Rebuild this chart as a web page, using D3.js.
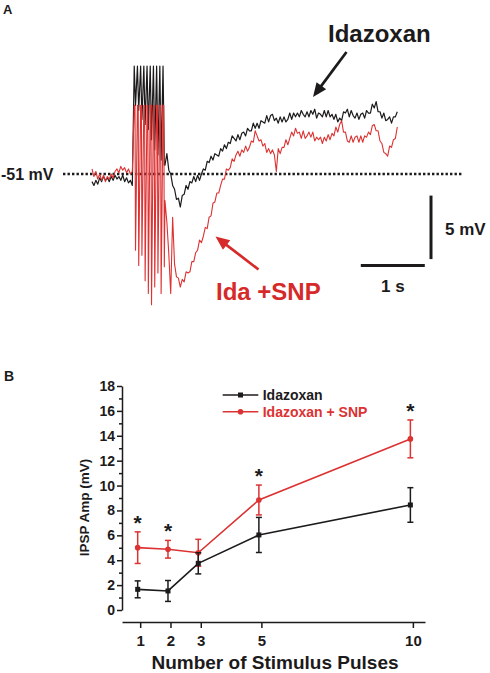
<!DOCTYPE html>
<html><head><meta charset="utf-8">
<script src="https://cdn.jsdelivr.net/npm/d3@7"></script>
<style>
html,body{margin:0;padding:0;background:#fff;}
svg{display:block;font-family:"Liberation Sans",Arial,Helvetica,sans-serif;}
</style></head><body>
<svg id="chart" width="490" height="673"></svg>
<script>
// ---------- Panel A data (mV, sampled every dt seconds) ----------
const dt = 0.03;
const preStart = 0;
const postStart = 1.14;
const restingPotential = -51;
const idaPre = [-51.6,-51.9,-51.5,-51.8,-51.3,-51.6,-51.2,-51.5,-51.3,-51.6,-51.2,-51.5,-51.1,-51.4,-51.2,-51.5,-51.1,-51.6,-51.3,-51.7,-51.5,-51.9];
const snpPre = [-50.6,-51.2,-50.8,-51.4,-51.0,-51.5,-51.1,-51.6,-51.2,-51.4,-51.0,-51.3,-50.8,-50.6,-50.9,-50.4,-50.7,-50.5,-50.9,-50.6,-51.0,-50.8];
const stimTimes = [0.66,0.71,0.76,0.81,0.86,0.91,0.96,1.01,1.06,1.11];
const idaStimUp = [-42.5,-42.5,-42.5,-42.5,-42.5,-42.5,-42.5,-42.5,-42.5,-42.5];
const idaStimDown = [-45.6,-46.0,-46.7,-47.1,-47.5,-48.3,-49.1,-49.5,-49.9,-50.3];
const snpStimUp = [-45.6,-45.6,-45.6,-45.6,-45.6,-45.6,-45.6,-45.6,-45.6,-45.6];
const snpStimDown = [-57.0,-58.2,-57.4,-59.4,-60.4,-61.3,-59.9,-58.8,-60.4,-58.3];
const idaPost = [-50.3,-49.4,-50.7,-51.0,-51.9,-52.2,-53.0,-52.9,-53.6,-52.7,
-52.6,-51.9,-52.2,-51.6,-51.7,-51.2,-51.6,-51.1,-51.5,-51.0,
-50.6,-50.7,-50.0,-50.1,-49.6,-49.9,-49.4,-49.5,-49.6,-49.0,
-49.2,-48.7,-49.0,-48.5,-48.6,-48.0,-48.2,-48.4,-47.9,-48.3,
-47.8,-47.7,-48.0,-47.4,-47.6,-47.6,-47.0,-47.4,-47.0,-47.4,
-46.8,-46.9,-47.0,-46.4,-46.9,-46.4,-46.3,-46.8,-46.6,-47.0,
-46.5,-46.9,-46.5,-46.9,-46.7,-46.2,-46.7,-46.2,-46.5,-46.2,
-46.5,-46.0,-46.3,-46.5,-46.1,-46.5,-46.0,-46.3,-45.9,-46.6,
-46.2,-46.3,-46.5,-46.0,-46.5,-46.0,-46.5,-46.3,-46.7,-46.3,
-46.9,-46.6,-46.8,-46.1,-46.2,-45.9,-46.5,-46.0,-46.4,-46.6,
-46.2,-46.7,-46.3,-46.2,-46.6,-46.0,-46.2,-46.2,-45.5,-45.8,
-45.3,-46.1,-46.1,-46.6,-46.2,-46.8,-46.7,-46.5,-47.0,-46.5,
-46.5,-46.1];
const snpPost = [-53.1,-54.8,-57.3,-60.4,-54.4,-58.1,-59.1,-59.2,-59.9,-59.3,
-59.5,-58.7,-58.8,-58.7,-57.9,-57.9,-57.2,-57.0,-56.2,-56.4,
-55.9,-55.2,-55.3,-54.4,-54.3,-53.3,-53.2,-52.5,-52.5,-51.9,
-51.4,-51.4,-50.6,-50.7,-50.5,-49.8,-50.0,-49.5,-49.2,-49.6,
-49.1,-49.3,-48.8,-49.2,-48.9,-48.4,-48.5,-47.6,-48.0,-48.4,
-48.3,-48.8,-48.6,-49.3,-49.0,-49.4,-49.1,-49.5,-50.8,-49.0,
-49.4,-48.9,-48.9,-48.3,-48.7,-48.2,-47.7,-48.0,-47.4,-47.8,
-47.7,-48.2,-47.6,-48.2,-48.0,-47.7,-48.1,-47.7,-48.4,-48.1,
-48.3,-48.1,-48.6,-48.1,-48.4,-47.9,-48.3,-47.8,-48.0,-47.3,
-47.7,-47.1,-46.8,-47.7,-47.7,-48.4,-48.5,-48.0,-48.5,-48.1,
-48.0,-48.5,-48.0,-48.5,-48.0,-48.1,-47.7,-47.9,-47.2,-47.1,
-47.6,-47.6,-48.4,-48.6,-49.3,-49.4,-49.6,-48.8,-48.9,-48.3,
-48.2,-47.3];

// ---------- Panel B data ----------
const pulses = [1, 2, 3, 5, 10];
const idaMean = [1.66, 1.53, 3.75, 6.03, 8.44];
const idaSem  = [0.68, 0.84, 0.85, 1.41, 1.39];
const snpMean = [5.01, 4.88, 4.60, 8.84, 13.75];
const snpSem  = [1.27, 0.71, 1.08, 1.20, 1.52];
const significant = [true, true, false, true, true];
const yTicksB = [0, 2, 4, 6, 8, 10, 12, 14, 16, 18];
const yMinorB = [1, 3, 5, 7, 9, 11, 13, 15, 17];
const xTicksB = [1, 2, 3, 5, 10];
const seriesNames = ["Idazoxan", "Idazoxan + SNP"];

const INK = "#1c1a1b";
const RED = "#dc3232";
const svg = d3.select("#chart");

// ================= Panel A =================
const xA = d3.scaleLinear().domain([0, 4.8]).range([92, 399.2]);
const yA = d3.scaleLinear().domain([-51, -46]).range([174, 110.5]);

function buildTrace(pre, up, down, post, flatTop) {
  const pts = [];
  pre.forEach((v, i) => pts.push([preStart + i * dt, v]));
  stimTimes.forEach((t, i) => {
    pts.push([t, up[i]]);
    if (flatTop) pts.push([t + 0.012, up[i]]);
    pts.push([t + 0.02, down[i]]);
  });
  post.forEach((v, i) => pts.push([postStart + i * dt, v]));
  return pts;
}
const lineA = d3.line().x(d => xA(d[0])).y(d => yA(d[1]));

svg.append("text").attr("x", 3).attr("y", 14).attr("font-size", 13).attr("font-weight", "bold").attr("fill", INK).text("A");

// dotted resting line
svg.append("line").attr("x1", 63).attr("x2", 463)
  .attr("y1", yA(restingPotential)).attr("y2", yA(restingPotential))
  .attr("stroke", INK).attr("stroke-width", 2.3).attr("stroke-dasharray", "2.4,2.1");
svg.append("text").attr("x", 1).attr("y", yA(restingPotential) + 6).attr("font-size", 16).attr("font-weight", "bold").attr("fill", INK).text(restingPotential + " mV");

svg.append("path").datum(buildTrace(idaPre, idaStimUp, idaStimDown, idaPost, false))
  .attr("d", lineA).attr("fill", "none").attr("stroke", INK).attr("stroke-width", 1.2).attr("stroke-linejoin", "round");
svg.append("path").datum(buildTrace(snpPre, snpStimUp, snpStimDown, snpPost, true))
  .attr("d", lineA).attr("fill", "none").attr("stroke", RED).attr("stroke-width", 1.1).attr("stroke-linejoin", "round");

// scale bars
const barT0 = 4.2, barV0 = -57.7;
svg.append("line").attr("x1", xA(barT0)).attr("x2", xA(barT0 + 1)).attr("y1", 265.5).attr("y2", 265.5)
  .attr("stroke", INK).attr("stroke-width", 3);
svg.append("line").attr("x1", 431).attr("x2", 431).attr("y1", yA(barV0)).attr("y2", yA(barV0 + 5))
  .attr("stroke", INK).attr("stroke-width", 3);
svg.append("text").attr("x", 445).attr("y", 235).attr("font-size", 17).attr("font-weight", "bold").attr("fill", INK).text("5 mV");
svg.append("text").attr("x", (xA(barT0) + xA(barT0 + 1)) / 2).attr("y", 292).attr("text-anchor", "middle").attr("font-size", 17).attr("font-weight", "bold").attr("fill", INK).text("1 s");

// labels + arrows
function arrow(x1, y1, x2, y2, color) {
  const ang = Math.atan2(y2 - y1, x2 - x1), L = 14, W = 6;
  const bx = x2 - L * Math.cos(ang), by = y2 - L * Math.sin(ang);
  svg.append("line").attr("x1", x1).attr("y1", y1).attr("x2", bx + 2 * Math.cos(ang)).attr("y2", by + 2 * Math.sin(ang))
    .attr("stroke", color).attr("stroke-width", 2.7);
  const px = -Math.sin(ang), py = Math.cos(ang);
  svg.append("path").attr("d", `M${x2},${y2}L${bx + W * px},${by + W * py}L${bx - W * px},${by - W * py}Z`).attr("fill", color);
}
svg.append("text").attr("x", 328).attr("y", 42).attr("font-size", 24).attr("font-weight", "bold").attr("fill", INK).text("Idazoxan");
arrow(346.5, 52, 313, 97, INK);
svg.append("text").attr("x", 216).attr("y", 300).attr("font-size", 24).attr("font-weight", "bold").attr("fill", "#d62a2a").text("Ida +SNP");
arrow(258.5, 269.5, 215.5, 236.5, "#d62a2a");

// ================= Panel B =================
svg.append("text").attr("x", 4).attr("y", 381).attr("font-size", 14).attr("font-weight", "bold").attr("fill", INK).text("B");

const xB = d3.scaleLinear().domain([0.4, 10.4]).range([119.5, 422.5]);
const yB = d3.scaleLinear().domain([0, 18]).range([610, 386]);

const gy = svg.append("g").attr("transform", "translate(122,0)")
  .call(d3.axisLeft(yB).tickValues(yTicksB).tickSize(5).tickPadding(2).tickSizeOuter(0));
svg.append("g").attr("transform", "translate(122,0)")
  .call(d3.axisLeft(yB).tickValues(yMinorB).tickSize(3).tickFormat("").tickSizeOuter(0))
  .select(".domain").remove();
const gx = svg.append("g").attr("transform", "translate(2.5,622)")
  .call(d3.axisBottom(xB).tickValues(xTicksB).tickSize(6).tickPadding(7).tickSizeOuter(0));
svg.selectAll(".tick line, .domain").attr("stroke", INK).attr("stroke-width", 1.5);
svg.selectAll(".tick text").attr("font-size", 14).attr("font-weight", "bold").attr("fill", INK)
  .attr("font-family", '"Liberation Sans",Arial,sans-serif');
gx.selectAll(".tick text").attr("font-size", 15);

svg.append("text").attr("transform", "translate(88.5,507.5) rotate(-90)").attr("text-anchor", "middle")
  .attr("font-size", 13.5).attr("font-weight", "bold").attr("fill", INK).text("IPSP Amp (mV)");
svg.append("text").attr("x", 275).attr("y", 668.5).attr("text-anchor", "middle")
  .attr("font-size", 19).attr("font-weight", "bold").attr("fill", INK).text("Number of Stimulus Pulses");

function drawSeries(means, sems, color, marker) {
  const g = svg.append("g");
  const data = pulses.map((p, i) => ({ p, m: means[i], s: sems[i] }));
  g.append("path").datum(data).attr("d", d3.line().x(d => xB(d.p)).y(d => yB(d.m)))
    .attr("fill", "none").attr("stroke", color).attr("stroke-width", 1.6);
  data.forEach(d => {
    const x = xB(d.p);
    g.append("line").attr("x1", x).attr("x2", x).attr("y1", yB(d.m - d.s)).attr("y2", yB(d.m + d.s)).attr("stroke", color).attr("stroke-width", 1.5);
    [d.m - d.s, d.m + d.s].forEach(v => g.append("line").attr("x1", x - 3).attr("x2", x + 3).attr("y1", yB(v)).attr("y2", yB(v)).attr("stroke", color).attr("stroke-width", 1.5));
    if (marker === "square") g.append("rect").attr("x", x - 2.5).attr("y", yB(d.m) - 2.5).attr("width", 5).attr("height", 5).attr("fill", color);
    else g.append("circle").attr("cx", x).attr("cy", yB(d.m)).attr("r", 2.8).attr("fill", color);
  });
}
drawSeries(snpMean, snpSem, RED, "circle");
drawSeries(idaMean, idaSem, INK, "square");

// significance asterisks
pulses.forEach((p, i) => {
  if (!significant[i]) return;
  svg.append("text").attr("x", xB(p)).attr("y", yB(snpMean[i] + snpSem[i]) - 2).attr("text-anchor", "middle")
    .attr("font-size", 21).attr("font-weight", "bold").attr("fill", INK).text("*");
});

// legend
const legend = [{ name: seriesNames[0], color: INK, marker: "square", y: 395 },
                { name: seriesNames[1], color: RED, marker: "circle", y: 411.7 }];
legend.forEach(l => {
  svg.append("line").attr("x1", 222.7).attr("x2", 258.3).attr("y1", l.y).attr("y2", l.y).attr("stroke", l.color).attr("stroke-width", 1.6);
  if (l.marker === "square") svg.append("rect").attr("x", 238).attr("y", l.y - 2.5).attr("width", 5).attr("height", 5).attr("fill", l.color);
  else svg.append("circle").attr("cx", 240.5).attr("cy", l.y).attr("r", 2.8).attr("fill", l.color);
  svg.append("text").attr("x", 262.7).attr("y", l.y + 5).attr("font-size", 14).attr("font-weight", "bold").attr("fill", l.color).text(l.name);
});
</script>
</body></html>
